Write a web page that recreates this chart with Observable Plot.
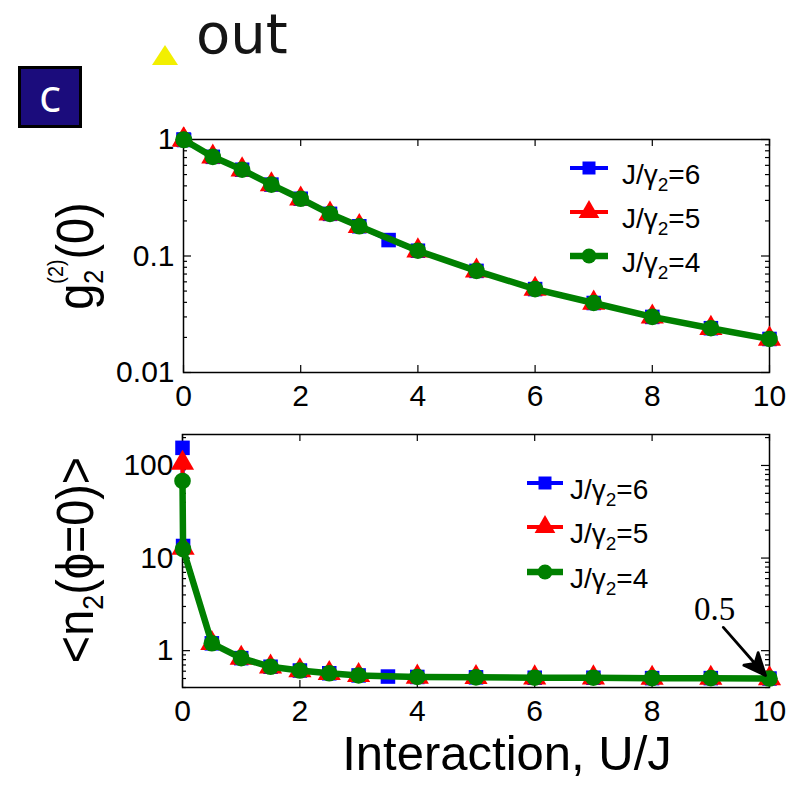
<!DOCTYPE html>
<html>
<head>
<meta charset="utf-8">
<script src="https://cdn.jsdelivr.net/npm/d3@7"></script>
<script src="https://cdn.jsdelivr.net/npm/@observablehq/plot@0.6"></script>
<style>
  html, body { margin: 0; padding: 0; background: #fff; }
  #fig { position: relative; width: 808px; height: 789px; overflow: hidden; background: #fff; }
  #head { position: absolute; left: 0; top: 0; filter: blur(0.5px); }
  #badge {
    position: absolute; left: 18px; top: 66px; width: 64px; height: 62px;
    box-sizing: border-box; border: 3px solid #000; background: #1b0c7c;
    color: #fff; font: 46px "Open Sans", sans-serif; line-height: 50px; text-align: center;
  }
  #p1, #p2 { position: absolute; left: 0; }
  #p1 { top: 0; }
  #p2 { top: 420px; }
</style>
</head>
<body>
<div id="fig">
  <svg id="head" width="808" height="70">
    <polygon points="165,45 152,65 178,65" fill="#f2ef00"></polygon>
    <text x="196" y="53" font-family="DejaVu Sans, sans-serif" font-size="56" fill="#151515">out</text>
  </svg>
  <div id="badge">c</div>
  <div id="p1"></div>
  <div id="p2"></div>
</div>
<script>
// Interaction strength U/J sampled for each hopping ratio J/γ2
const uJ6 = [0, 0.01, 0.5, 1, 1.5, 2, 2.5, 3, 3.5, 4, 5, 6, 7, 8, 9, 10];
const uJ5 = [0, 0.01, 0.5, 1, 1.5, 2, 2.5, 3, 4, 5, 6, 7, 8, 9, 10];
const uJ4 = [0, 0.01, 0.5, 1, 1.5, 2, 2.5, 3, 4, 5, 6, 7, 8, 9, 10];

// Second-order correlation g2^(2)(0)
const g2J6 = [1.0, 0.99, 0.71, 0.55, 0.41, 0.31, 0.23, 0.18, 0.137, 0.111, 0.0745, 0.052, 0.0395, 0.030, 0.024, 0.0194];
const g2J5 = [1.0, 0.99, 0.71, 0.55, 0.41, 0.31, 0.23, 0.18, 0.111, 0.0745, 0.052, 0.0395, 0.030, 0.024, 0.0194];
const g2J4 = [1.0, 0.99, 0.71, 0.55, 0.41, 0.31, 0.23, 0.18, 0.111, 0.0745, 0.052, 0.0395, 0.030, 0.024, 0.0194];

// Mean photon number <n2(phi=0)>
const n2J6 = [155, 13.5, 1.2, 0.83, 0.67, 0.61, 0.57, 0.54, 0.525, 0.52, 0.515, 0.51, 0.51, 0.505, 0.505, 0.5];
const n2J5 = [106, 12.8, 1.2, 0.83, 0.67, 0.61, 0.57, 0.54, 0.52, 0.515, 0.51, 0.51, 0.505, 0.505, 0.5];
const n2J4 = [68, 12.5, 1.2, 0.83, 0.67, 0.61, 0.57, 0.54, 0.52, 0.515, 0.51, 0.51, 0.505, 0.505, 0.5];

const jRatios = [6, 5, 4];

// Tick values
const xTicks = [0, 2, 4, 6, 8, 10];
const gTicks = [0.01, 0.1, 1];
const gMinor = [0.02, 0.03, 0.04, 0.05, 0.06, 0.07, 0.08, 0.09, 0.2, 0.3, 0.4, 0.5, 0.6, 0.7, 0.8, 0.9];
const nTicks = [1, 10, 100];
const nMinor = [0.4, 0.5, 0.6, 0.7, 0.8, 0.9, 2, 3, 4, 5, 6, 7, 8, 9, 20, 30, 40, 50, 60, 70, 80, 90, 200];

// Annotated end value of the photon number
const endNote = {u: 10, v: 0.5};

const FONT = '"Liberation Sans", Arial, Helvetica, sans-serif';

const styles = [
  {color: "#0000ff", lw: 4, symbol: "square", r: 8.2},
  {color: "#ff0000", lw: 4, symbol: "triangle", r: 8.6},
  {color: "#008000", lw: 6.5, symbol: "circle", r: 8.3}
];

const rows = (us, vs) => us.map((u, i) => ({u, v: vs[i]}));

function seriesMarks(sets) {
  const marks = [];
  sets.forEach((data, i) => {
    const s = styles[i];
    marks.push(Plot.line(data, {x: "u", y: "v", stroke: s.color, strokeWidth: s.lw, strokeLinejoin: "round"}));
    marks.push(Plot.dot(data, {x: "u", y: "v", symbol: s.symbol, r: s.r, fill: s.color, stroke: "none"}));
  });
  return marks;
}

// MATLAB-style inward ticks on all four sides
function innerTicks(yMajor, yMinor, fw, fh) {
  const t = {stroke: "#000", strokeWidth: 1.2};
  return [
    Plot.tickX(xTicks, {x: d => d, insetTop: fh - 7, ...t}),
    Plot.tickX(xTicks, {x: d => d, insetBottom: fh - 7, ...t}),
    Plot.tickY(yMajor, {y: d => d, insetRight: fw - 8, ...t}),
    Plot.tickY(yMajor, {y: d => d, insetLeft: fw - 8, ...t}),
    Plot.tickY(yMinor, {y: d => d, insetRight: fw - 4, ...t}),
    Plot.tickY(yMinor, {y: d => d, insetLeft: fw - 4, ...t})
  ];
}

function axes(yTicks) {
  return [
    Plot.axisX({ticks: xTicks, tickSize: 0, tickPadding: 12, tickFormat: d => String(d), fontSize: 30, label: null, fill: "#000"}),
    Plot.axisY({ticks: yTicks, tickSize: 0, tickPadding: 9, tickFormat: d => String(d), fontSize: 30, label: null, fill: "#000"})
  ];
}

function legend(svg, x0, x1, ys, tx) {
  const g = d3.select(svg).append("g").attr("font-family", FONT).attr("text-anchor", "start");
  styles.forEach((s, i) => {
    const y = ys[i];
    g.append("line").attr("x1", x0).attr("x2", x1).attr("y1", y).attr("y2", y)
      .attr("stroke", s.color).attr("stroke-width", s.lw);
    const sym = {square: d3.symbolSquare, triangle: d3.symbolTriangle, circle: d3.symbolCircle}[s.symbol];
    g.append("path").attr("transform", `translate(${(x0 + x1) / 2},${y})`)
      .attr("d", d3.symbol(sym, Math.PI * s.r * s.r * 0.8)()).attr("fill", s.color);
    const t = g.append("text").attr("x", tx).attr("y", y + 16).attr("font-size", 28).attr("fill", "#000");
    t.append("tspan").text("J/γ");
    t.append("tspan").attr("font-size", 19).attr("dy", 7).text("2");
    t.append("tspan").attr("dy", -7).text("=" + jRatios[i]);
  });
}

// ---- upper panel: g2(0)
const W = 808;
const top1 = {t: 139, l: 183, r: 39, b: 48, h: 420};
const fw1 = W - top1.l - top1.r, fh1 = top1.h - top1.t - top1.b;
const p1 = Plot.plot({
  width: W, height: top1.h,
  marginTop: top1.t, marginLeft: top1.l, marginRight: top1.r, marginBottom: top1.b,
  style: {background: "transparent", overflow: "visible", fontFamily: FONT, fontSize: "30px", color: "#000"},
  x: {domain: [0, 10]},
  y: {type: "log", domain: [0.01, 1]},
  marks: [
    ...innerTicks(gTicks, gMinor, fw1, fh1),
    Plot.frame({stroke: "#000", strokeWidth: 1.5}),
    ...axes(gTicks),
    ...seriesMarks([rows(uJ6, g2J6), rows(uJ5, g2J5), rows(uJ4, g2J4)])
  ]
});
document.getElementById("p1").append(p1);
legend(p1, 570, 608, [168, 212, 256], 622);
{
  const t = d3.select(p1).append("text")
    .attr("transform", "translate(93,256) rotate(-90) scale(0.9,1)")
    .attr("text-anchor", "middle").attr("font-family", FONT).attr("font-size", 52).attr("fill", "#000");
  t.append("tspan").text("g");
  t.append("tspan").attr("font-size", 28).attr("dy", 10).text("2");
  t.append("tspan").attr("font-size", 22).attr("dx", -15.6).attr("dy", -40).text("(2)");
  t.append("tspan").attr("dy", 30).text("(0)");
}

// ---- lower panel: <n2(phi=0)>
const b2 = {t: 14, l: 182, r: 39, b: 102, h: 369};
const fw2 = W - b2.l - b2.r, fh2 = b2.h - b2.t - b2.b;
const arrowShape = {
  draw(context, l) {
    const h = 22, w = 9.5, notch = 6;
    context.moveTo(0, 0);
    context.lineTo(0, -l + h - notch);
    context.moveTo(0, -l);
    context.lineTo(w, -l + h);
    context.lineTo(0, -l + h - notch);
    context.lineTo(-w, -l + h);
    context.closePath();
  }
};
const p2 = Plot.plot({
  width: W, height: b2.h,
  marginTop: b2.t, marginLeft: b2.l, marginRight: b2.r, marginBottom: b2.b,
  style: {background: "transparent", overflow: "visible", fontFamily: FONT, fontSize: "30px", color: "#000"},
  x: {domain: [0, 10]},
  y: {type: "log", domain: [0.4, 216]},
  marks: [
    ...innerTicks(nTicks, nMinor, fw2, fh2),
    Plot.frame({stroke: "#000", strokeWidth: 1.5}),
    ...axes(nTicks),
    ...seriesMarks([rows(uJ6, n2J6), rows(uJ5, n2J5), rows(uJ4, n2J4)]),
    Plot.vector([endNote], {x: "u", y: "v", length: 64, rotate: 138.8, anchor: "end", dx: -4, dy: -3,
      shape: arrowShape, stroke: "#000", fill: "#000", strokeWidth: 2.8}),
    Plot.text([endNote], {x: "u", y: "v", text: d => String(d.v), dx: -55, dy: -69.5,
      fontFamily: '"Liberation Serif", "Times New Roman", serif', fontSize: 33, fill: "#000"})
  ]
});
document.getElementById("p2").append(p2);
legend(p2, 527, 563, [483 - 420, 527 - 420, 572 - 420], 570);
{
  const t = d3.select(p2).append("text")
    .attr("transform", "translate(93,140) rotate(-90) scale(0.9,1)")
    .attr("text-anchor", "middle").attr("font-family", FONT).attr("font-size", 52).attr("fill", "#000");
  t.append("tspan").text("<n");
  t.append("tspan").attr("font-size", 30).attr("dy", 10).text("2");
  t.append("tspan").attr("dy", -10).text("(ϕ=0)>");
  d3.select(p2).append("text")
    .attr("x", 507).attr("y", 350).attr("text-anchor", "middle")
    .attr("font-family", FONT).attr("font-size", 49).attr("fill", "#000")
    .text("Interaction, U/J");
}
</script>
</body>
</html>
